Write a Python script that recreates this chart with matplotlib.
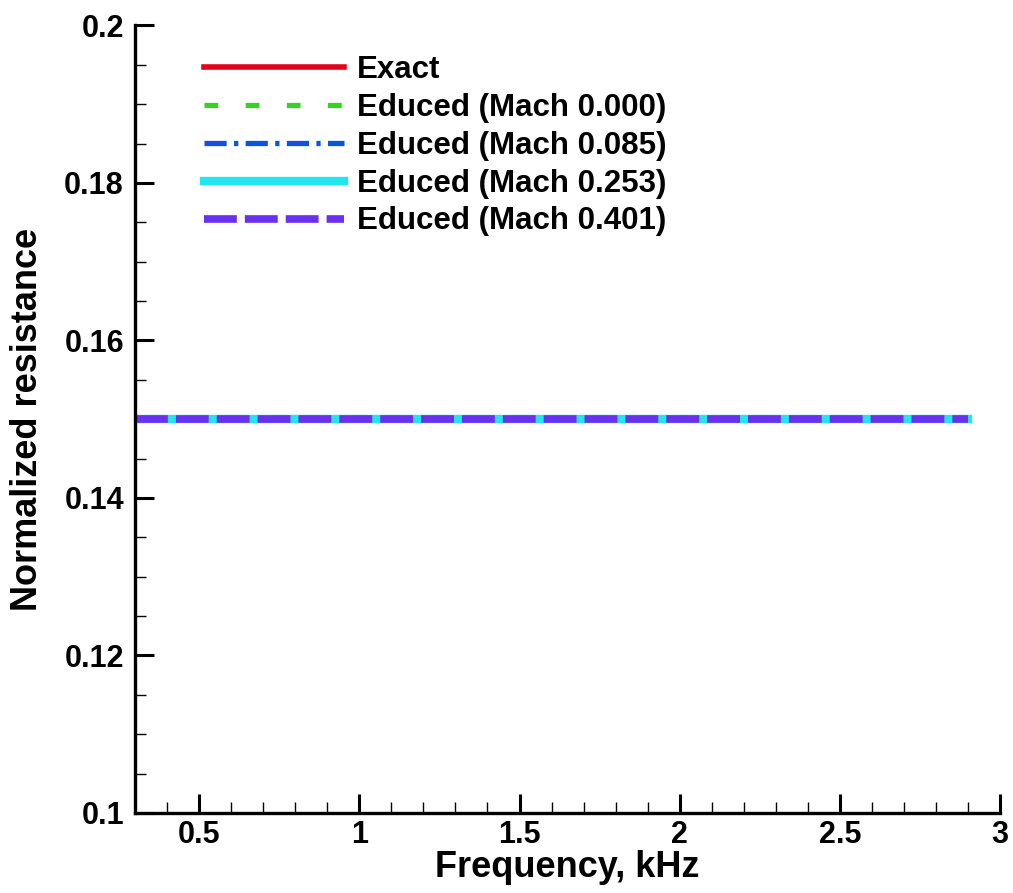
import numpy as np
import matplotlib
matplotlib.use("Agg")
import matplotlib.pyplot as plt
from matplotlib.ticker import MultipleLocator

plt.rcParams['font.family'] = ['Liberation Sans', 'DejaVu Sans']
plt.rcParams['font.weight'] = 'bold'

# Frequency grid (kHz) and normalized resistance for each case
freq = [0.3, 2.9]
exact = [0.15, 0.15]
mach_000 = [0.15, 0.15]
mach_085 = [0.15, 0.15]
mach_253 = [0.15, 0.15]
mach_401 = [0.15, 0.15]

labels = ["Exact", "Educed (Mach 0.000)", "Educed (Mach 0.085)",
          "Educed (Mach 0.253)", "Educed (Mach 0.401)"]

fig = plt.figure(figsize=(10.13, 8.93), dpi=100)
ax = fig.add_axes([0.1333, 0.0896, 0.854, 0.882])

ax.plot(freq, exact, color='#e3001b', lw=4.0, label=labels[0])
ax.plot(freq, mach_000, color='#3ccf2a', lw=3.8, dashes=(2.6, 5.2), label=labels[1])
ax.plot(freq, mach_085, color='#1450e0', lw=3.8, dashes=(4.2, 1.4, 0.8, 1.4), label=labels[2])
ax.plot(freq, mach_253, color='#22e6ee', lw=6.0, label=labels[3])
ax.plot(freq, mach_401, color='#6a2ff0', lw=5.5, dashes=(4.3, 1.05), label=labels[4])

ax.set_xlim(0.3, 3.0)
ax.set_ylim(0.1, 0.2)
ax.xaxis.set_minor_locator(MultipleLocator(0.1))
ax.yaxis.set_minor_locator(MultipleLocator(0.005))
ax.set_xticks([0.5, 1.0, 1.5, 2.0, 2.5, 3.0])
ax.set_xticklabels(["0.5", "1", "1.5", "2", "2.5", "3"])
ax.set_yticks([0.1, 0.12, 0.14, 0.16, 0.18, 0.2])
ax.set_yticklabels(["0.1", "0.12", "0.14", "0.16", "0.18", "0.2"])

for side in ('top', 'right'):
    ax.spines[side].set_visible(False)
for side in ('left', 'bottom'):
    ax.spines[side].set_linewidth(2.4)

ax.tick_params(which='major', direction='in', length=14, width=2.2, labelsize=22)
ax.tick_params(axis='x', which='major', pad=5)
ax.tick_params(axis='y', which='major', pad=8)
ax.tick_params(which='minor', direction='in', length=8, width=1.0)

ax.set_xlabel("Frequency, kHz", fontsize=26, fontweight='bold', labelpad=0)
ax.set_ylabel("Normalized resistance", fontsize=26, fontweight='bold', labelpad=14)

leg = ax.legend(loc='upper left', bbox_to_anchor=(0.065, 0.978), frameon=False,
                fontsize=22.5, handlelength=4.5, handletextpad=0.4,
                labelspacing=0.25, borderaxespad=0)

fig.savefig("out.png", dpi=100)
